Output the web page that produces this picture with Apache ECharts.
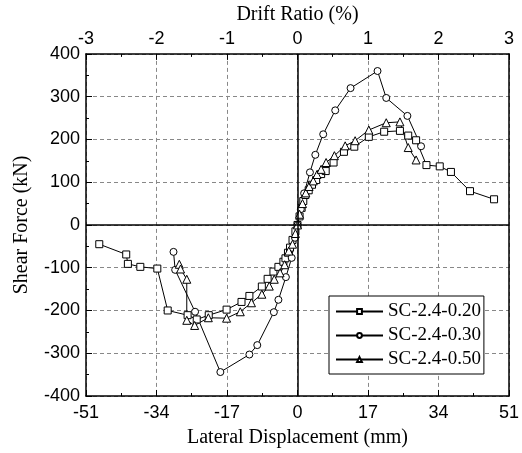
<!DOCTYPE html>
<html>
<head>
<meta charset="utf-8">
<script src="https://cdn.jsdelivr.net/npm/echarts@6/dist/echarts.min.js"></script>
<style>
html,body{margin:0;padding:0;background:#fff;}
#chart{width:522px;height:453px;}
</style>
</head>
<body>
<div id="chart"></div>
<script>
// Series names
const seriesNames = ['SC-2.4-0.20', 'SC-2.4-0.30', 'SC-2.4-0.50'];

// SC-2.4-0.20 (squares): lateral displacement (mm) and shear force (kN)
const sc20X = [-47.8, -41.3, -40.9, -37.9, -33.8, -31.3, -26.5, -24.3, -21.4, -17.1, -13.5, -11.6, -8.6, -7.2, -5.8, -4.6, -3.4, -2.9, -2.3, -1.8, -1.2, -0.5, 0,
               0.5, 1.0, 1.4, 1.9, 2.7, 3.5, 4.5, 5.7, 6.8, 8.7, 11.2, 13.7, 17.2, 20.9, 24.7, 26.7, 28.6, 31.1, 34.3, 37.0, 41.6, 47.4];
const sc20Y = [-45, -69, -91, -98, -102, -200, -211, -221, -211, -198, -180, -166, -144, -126, -109, -98, -86, -78, -65, -53, -35, -15, 0,
               20, 40, 56, 70, 81, 94, 105, 119, 126, 146, 171, 183, 206, 218, 220, 209, 198, 140, 137, 124, 79, 60];

// SC-2.4-0.30 (circles)
const sc30X = [-29.9, -29.5, -24.7, -18.6, -11.6, -9.7, -5.7, -4.6, -2.8, -1.4, -0.6, 0,
               0.8, 1.6, 3.0, 4.3, 6.2, 9.1, 12.8, 19.3, 21.4, 26.5, 29.8];
const sc30Y = [-63, -105, -203, -344, -303, -281, -204, -175, -122, -77, -30, 0,
               37, 74, 123, 164, 212, 268, 320, 360, 297, 255, 184];

// SC-2.4-0.50 (triangles)
const sc50X = [-28.5, -28.2, -26.7, -26.7, -24.8, -21.5, -17.1, -13.8, -11.1, -8.6, -6.8, -5.6, -4.2, -3.1, -2.1, -1.2, -0.5, 0,
               0.5, 1.2, 2.0, 2.8, 3.8, 4.7, 5.7, 6.9, 8.9, 11.5, 13.9, 17.2, 21.4, 24.7, 26.7, 28.6];
const sc50Y = [-92, -103, -127, -223, -235, -217, -218, -203, -182, -162, -143, -127, -112, -93, -61, -45, -20, 0,
               25, 50, 75, 90, 103, 118, 130, 146, 162, 185, 197, 222, 239, 241, 181, 152];

// Axis ranges
const dispMin = -51, dispMax = 51, dispStep = 17;
const driftMin = -3, driftMax = 3, driftStep = 1;
const forceMin = -400, forceMax = 400, forceStep = 100;

const pairs = (xs, ys) => xs.map((x, i) => [x, ys[i]]);

const sansFont = 'Liberation Sans, Arial, sans-serif';
const serifFont = 'Liberation Serif, Times New Roman, serif';

const markerStyle = { color: '#fff', borderColor: '#000', borderWidth: 1 };
const lineStyle = { color: '#000', width: 1 };

const chart = echarts.init(document.getElementById('chart'), null, { renderer: 'canvas' });

const option = {
  animation: false,
  backgroundColor: '#fff',
  grid: { left: 86, right: 10, top: 52, bottom: 57, containLabel: false },
  legend: {
    orient: 'vertical',
    left: 329,
    top: 296,
    padding: [6, 3, 5, 6],
    itemGap: 5,
    itemWidth: 47,
    itemHeight: 6,
    borderColor: '#000',
    borderWidth: 1,
    backgroundColor: '#fff',
    textStyle: { fontFamily: serifFont, fontSize: 19, color: '#000', padding: [0, 0, 0, 0] },
    data: seriesNames
  },
  xAxis: [
    {
      type: 'value', position: 'bottom',
      min: dispMin, max: dispMax, interval: dispStep,
      name: 'Lateral Displacement (mm)', nameLocation: 'middle', nameGap: 32,
      nameTextStyle: { fontFamily: serifFont, fontSize: 20, color: '#000' },
      axisLine: { show: true, onZero: false, lineStyle: { color: '#000', width: 1.5 } },
      axisTick: { show: true, inside: true, length: 6, lineStyle: { color: '#000', width: 1 } },
      minorTick: { show: true, splitNumber: 2, length: 3, lineStyle: { color: '#000', width: 1 } },
      axisLabel: { fontFamily: sansFont, fontSize: 18, color: '#000', margin: 8 },
      splitLine: { show: true, lineStyle: { color: '#888', type: [4, 3], width: 1 } }
    },
    {
      type: 'value', position: 'top',
      min: driftMin, max: driftMax, interval: driftStep,
      name: 'Drift Ratio (%)', nameLocation: 'middle', nameGap: 23,
      nameTextStyle: { fontFamily: serifFont, fontSize: 20, color: '#000' },
      axisLine: { show: true, onZero: false, lineStyle: { color: '#000', width: 1.5 } },
      axisTick: { show: true, inside: true, length: 6, lineStyle: { color: '#000', width: 1 } },
      minorTick: { show: true, splitNumber: 2, length: 3, lineStyle: { color: '#000', width: 1 } },
      axisLabel: { fontFamily: sansFont, fontSize: 18, color: '#000', margin: 6 },
      splitLine: { show: false }
    }
  ],
  yAxis: [
    {
      type: 'value', position: 'left',
      min: forceMin, max: forceMax, interval: forceStep,
      name: 'Shear Force (kN)', nameLocation: 'middle', nameGap: 54,
      nameTextStyle: { fontFamily: serifFont, fontSize: 20, color: '#000' },
      axisLine: { show: true, onZero: false, lineStyle: { color: '#000', width: 1.5 } },
      axisTick: { show: true, inside: true, length: 6, lineStyle: { color: '#000', width: 1 } },
      minorTick: { show: true, splitNumber: 2, length: 3, lineStyle: { color: '#000', width: 1 } },
      axisLabel: { fontFamily: sansFont, fontSize: 18, color: '#000', margin: 6 },
      splitLine: { show: true, lineStyle: { color: '#888', type: [4, 3], width: 1 } }
    },
    {
      type: 'value', position: 'right',
      min: forceMin, max: forceMax, interval: forceStep,
      axisLine: { show: true, onZero: false, lineStyle: { color: '#000', width: 1.5 } },
      axisTick: { show: false },
      axisLabel: { show: false },
      splitLine: { show: false }
    }
  ],
  series: [
    {
      name: seriesNames[0], type: 'line', xAxisIndex: 0, yAxisIndex: 0,
      data: pairs(sc20X, sc20Y),
      symbol: 'rect', symbolSize: 7, showAllSymbol: true,
      itemStyle: markerStyle, lineStyle: lineStyle, z: 3,
      markLine: {
        silent: true, symbol: 'none', animation: false,
        label: { show: false },
        lineStyle: { color: '#000', width: 1.5, type: 'solid' },
        data: [{ xAxis: 0 }, { yAxis: 0 }]
      }
    },
    {
      name: seriesNames[1], type: 'line', xAxisIndex: 0, yAxisIndex: 0,
      data: pairs(sc30X, sc30Y),
      symbol: 'circle', symbolSize: 7, showAllSymbol: true,
      itemStyle: markerStyle, lineStyle: lineStyle, z: 3
    },
    {
      name: seriesNames[2], type: 'line', xAxisIndex: 0, yAxisIndex: 0,
      data: pairs(sc50X, sc50Y),
      symbol: 'triangle', symbolSize: 8, showAllSymbol: true,
      itemStyle: markerStyle, lineStyle: lineStyle, z: 3
    }
  ]
};

chart.setOption(option);
</script>
</body>
</html>
